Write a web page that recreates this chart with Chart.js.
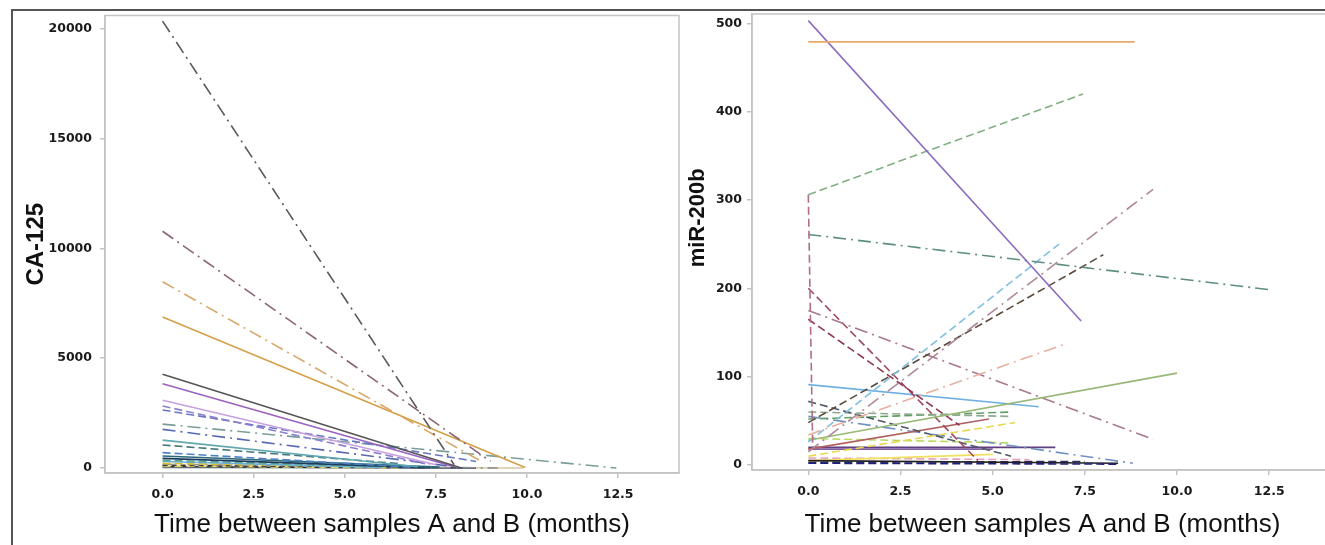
<!DOCTYPE html>
<html>
<head>
<meta charset="utf-8">
<script src="https://cdn.jsdelivr.net/npm/chart.js@4.4.1/dist/chart.umd.min.js"></script>
<style>
  html, body { margin: 0; padding: 0; background: #fff; overflow: hidden; }
  body { width: 1325px; height: 545px; position: relative; }
  .outer { position: absolute; left: 11px; top: 9px; width: 1400px; height: 600px; border: 2px solid #555; }
  canvas { position: absolute; top: 0; }
  #ca125 { left: 0; }
  #mir200b { left: 680px; }
</style>
</head>
<body>
<div class="outer"></div>
<canvas id="ca125" width="690" height="545"></canvas>
<canvas id="mir200b" width="710" height="545"></canvas>
<script>
// shared x ticks (months)
const monthTicks = [0, 2.5, 5, 7.5, 10, 12.5];

// CA-125: value at sample A (t=0), time of sample B, value at sample B
const caTicks = [0, 5000, 10000, 15000, 20000];
const caStart = [20350, 10780, 8480, 6880, 4270, 3840, 3090, 2820, 2640, 2000, 1760, 1270, 1050, 700, 545, 440, 350, 300, 210, 170, 130, 90, 60, 30, 20];
const caEndTime = [8.0, 9.0, 8.8, 9.95, 8.2, 8.0, 7.5, 7.2, 8.6, 12.45, 7.8, 7.0, 6.5, 6.8, 7.6, 7.2, 7.0, 6.0, 5.5, 9.2, 4.5, 6.5, 8.6, 9.9, 8.0];
const caEnd = [150, 300, 250, 20, 0, 60, 150, 200, 300, 0, 100, 60, 200, 40, 40, 20, 30, 30, 80, 0, 60, 10, 0, 0, 0];

// miR-200b
const mirTicks = [0, 100, 200, 300, 400, 500];
const mirStart = [479, 503, 306, 306, 261, 26, 15, 48, 34, 28, 175, 200, 165, 91, 72, 60, 18, 10, 55, 18, 2, 20, 5, 5, 52, 30, 8, 3];
const mirEndTime = [8.85, 7.4, 7.45, 0.12, 12.6, 6.8, 9.35, 8.0, 6.9, 10.0, 9.35, 4.6, 4.1, 6.25, 5.5, 5.5, 4.9, 5.6, 8.8, 5.0, 8.4, 6.7, 8.4, 5.0, 5.5, 5.5, 6.0, 7.5];
const mirEnd = [479, 163, 420, 18, 198, 250, 312, 238, 136, 104, 29, 5, 45, 66, 10, 55, 52, 48, 2, 18, 1, 20, 2, 12, 60, 25, 6, 4];

// line styles
const DD = [13, 5, 2, 5];
const DA = [8, 4];
const caColors = ['#5a5a5a', '#8c6478', '#d8a868', '#d4a048', '#555555', '#9a62c0', '#c8a0e0', '#8a80d0', '#6878c0', '#7a9e9a',
  '#5868b0', '#60a8b0', '#4a7878', '#5080c8', '#2a6a78', '#1e3c60', '#58a890', '#68b0d8', '#e0c028', '#909090',
  '#303030', '#e8d860', '#1a2a50', '#d8c8a0', '#90c8e8'];
const caDashes = [DD, DD, DD, [], [], [], [], DA, DA, DD, DD, [], DA, DA, [], [], DA, [], DA, DD, [5, 4], DA, [], [], []];
const mirColors = ['#e8a868', '#8c6cc0', '#80b080', '#b07080', '#5e8e7e', '#80c0e0', '#b08898', '#5c4a3c', '#e8b0a0', '#98b878',
  '#a87890', '#a04860', '#8c3850', '#70b0e0', '#505868', '#90a890', '#b06060', '#e8d850', '#7090c0', '#8060a0',
  '#202080', '#604080', '#222222', '#f0e060', '#60a060', '#b8d860', '#e8a0c0', '#303060'];
const mirDashes = [[], [], DA, DA, DD, DA, DD, DA, DD, [], DD, DA, DA, [], DA, DA, [], DA, DD, [], DA, [], [], [], DA, DA, DA, DA];

const tickFont = { family: 'DejaVu Sans', size: 12.5, weight: 'bold' };
const xTitleFont = { family: 'Liberation Sans', size: 26 };

// grey frame round the plot area and the rotated y title
const framePlugin = {
  id: 'frame',
  afterDraw(chart, args, opts) {
    const { ctx, chartArea: a } = chart;
    ctx.save();
    ctx.strokeStyle = '#c4c4c4';
    ctx.lineWidth = 1.5;
    ctx.strokeRect(a.left, a.top, a.right - a.left, a.bottom - a.top);
    ctx.translate(opts.titleX, a.top + (a.bottom - a.top) * opts.titlePos);
    ctx.rotate(-Math.PI / 2);
    ctx.font = 'bold ' + opts.titleSize + 'px "Liberation Sans"';
    ctx.fillStyle = '#111';
    ctx.textAlign = 'center';
    ctx.textBaseline = 'middle';
    ctx.fillText(opts.title, 0, 0);
    ctx.restore();
  }
};

function buildDatasets(starts, endTimes, ends, colors, dashes) {
  return starts.map((v, i) => ({
    data: [{ x: 0, y: v }, { x: endTimes[i], y: ends[i] }],
    borderColor: colors[i],
    borderDash: dashes[i],
    borderWidth: 1.6,
    pointRadius: 0,
    fill: false,
    tension: 0
  }));
}

function makeChart(id, cfg) {
  const ctx = document.getElementById(id).getContext('2d');
  return new Chart(ctx, {
    type: 'line',
    data: { datasets: buildDatasets(cfg.starts, cfg.endTimes, cfg.ends, cfg.colors, cfg.dashes) },
    options: {
      responsive: false,
      animation: false,
      layout: { padding: cfg.padding },
      plugins: {
        legend: { display: false },
        tooltip: { enabled: false },
        frame: { title: cfg.yTitle, titleSize: cfg.yTitleSize, titleX: cfg.yTitleX, titlePos: cfg.yTitlePos }
      },
      scales: {
        x: {
          type: 'linear',
          min: cfg.xMin,
          max: cfg.xMax,
          afterBuildTicks: (s) => { s.ticks = monthTicks.map(v => ({ value: v })); },
          afterFit: (s) => { s.height = cfg.xHeight; },
          ticks: { callback: (v) => Number(v).toFixed(1), font: tickFont, color: '#1a1a1a', padding: 9, maxRotation: 0 },
          grid: { drawOnChartArea: false, tickLength: 5, color: '#c4c4c4', lineWidth: 1.5 },
          border: { color: '#c4c4c4', width: 1.5 },
          title: { display: true, text: 'Time between samples A and B (months)', font: xTitleFont, color: '#111', padding: { top: 0, bottom: 5 } }
        },
        y: {
          min: cfg.yMin,
          max: cfg.yMax,
          afterBuildTicks: (s) => { s.ticks = cfg.yTicks.map(v => ({ value: v })); },
          afterFit: (s) => { s.width = cfg.yWidth; },
          ticks: { callback: (v) => String(v), font: tickFont, color: '#1a1a1a', padding: cfg.yTickPad },
          grid: { drawOnChartArea: false, tickLength: 5, color: '#c4c4c4', lineWidth: 1.5 },
          border: { color: '#c4c4c4', width: 1.5 }
        }
      }
    },
    plugins: [framePlugin]
  });
}

makeChart('ca125', {
  starts: caStart, endTimes: caEndTime, ends: caEnd, colors: caColors, dashes: caDashes,
  xMin: -1.58, xMax: 14.17, yMin: -227, yMax: 20605, yTicks: caTicks,
  padding: { top: 15, right: 11, left: 0, bottom: 0 },
  xHeight: 72, yWidth: 105, yTickPad: 8,
  yTitle: 'CA-125', yTitleSize: 24, yTitleX: 36, yTitlePos: 0.5
});

makeChart('mir200b', {
  starts: mirStart, endTimes: mirEndTime, ends: mirEnd, colors: mirColors, dashes: mirDashes,
  xMin: -1.527, xMax: 14.23, yMin: -5.66, yMax: 510.5, yTicks: mirTicks,
  padding: { top: 14, right: 57, left: 0, bottom: 0 },
  xHeight: 75, yWidth: 72, yTickPad: 5,
  yTitle: 'miR-200b', yTitleSize: 22, yTitleX: 18, yTitlePos: 0.447
});
</script>
</body>
</html>
